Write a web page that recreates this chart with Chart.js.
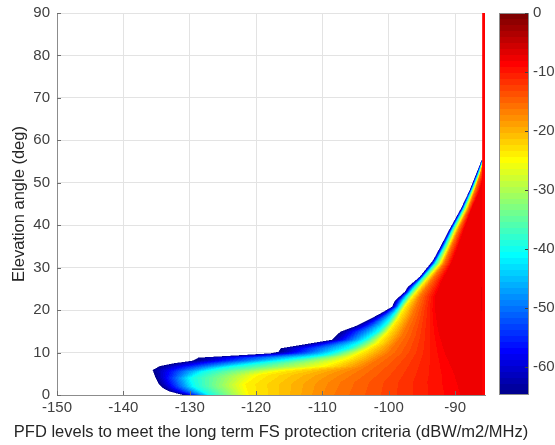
<!DOCTYPE html>
<html>
<head>
<meta charset="utf-8">
<script src="https://cdn.jsdelivr.net/npm/chart.js@4.4.0/dist/chart.umd.min.js"></script>
<style>
  html, body { margin: 0; padding: 0; background: #fff; }
  #wrap { width: 555px; height: 445px; }
</style>
</head>
<body>
<div id="wrap"><canvas id="pfdChart" width="555" height="445"></canvas></div>
<script>
// colour scale limits and the PFD range shown
const minLevel = -64.7;
const maxLevel = 0;
const pfdMin = -150;
const pfdMax = -85.5;

// tick labels
const xTicks = [-150, -140, -130, -120, -110, -100, -90];
const yTicks = [0, 10, 20, 30, 40, 50, 60, 70, 80, 90];
const cbTicks = [-60, -50, -40, -30, -20, -10, 0];

const xTitle = 'PFD levels to meet the long term FS protection criteria (dBW/m2/MHz)';
const yTitle = 'Elevation angle (deg)';

// lower boundary of the filled region: [elevation deg, PFD]
const edgeLine = [
  [0, -131], [0.8, -133], [1.6, -134], [2.7, -134.7], [3.9, -135.1], [5.1, -135.4],
  [5.9, -135.6], [6.8, -134.5], [7.45, -132.5], [8.1, -129.5], [8.8, -128.7],
  [9.8, -117.9], [10.2, -116.6], [11.0, -116.3], [13.0, -108.6], [14.9, -107.3],
  [16.3, -104.9], [18.9, -101.6], [20.8, -99.5], [22.2, -99.1], [24.3, -97.6],
  [25.5, -97.1], [27.9, -95.3], [31.8, -93.3], [35.3, -92.1], [38.9, -90.9],
  [44, -89.1], [48.3, -87.8], [52.2, -86.8], [55.4, -86.0]
];

// contour levels inside the region and where each one crosses each elevation
const contourLevels = [-40, -24, -16, -8];
const contour40 = [
  [0, -127], [2, -129.3], [4, -129.8], [5.5, -128], [6.5, -124.5], [7.6, -119],
  [8.5, -114], [9.4, -109.4], [11, -106], [13, -103.5], [14.9, -101.6], [17, -100.2],
  [20, -98.7], [23.2, -97.3], [27, -95.2], [31, -93], [35, -91.6], [39, -90.4],
  [44, -88.7], [48.3, -87.5], [52.2, -86.5], [55.4, -85.85]
];
const contour24 = [
  [0, -121], [2.5, -121.5], [4.7, -119.5], [5.7, -116], [6.7, -109.4], [8.5, -106],
  [10.5, -103.5], [12.2, -101.6], [15, -100], [18, -98.6], [20.8, -97.6], [23.2, -96.4],
  [27, -94.4], [31, -92.2], [35, -91], [39, -89.9], [44, -88.3], [48.3, -87.2],
  [52.2, -86.3], [55.4, -85.75]
];
const contour16 = [
  [0, -108], [3, -107], [6, -104], [10, -100], [14, -98], [18, -96.7], [23.2, -95.3],
  [27, -93.6], [31, -91.7], [35, -90.6], [39, -89.5], [44, -88], [48.3, -87],
  [52.2, -86.2], [55.4, -85.7]
];
const contour8 = [
  [0, -89], [5, -90], [10, -91.5], [15, -92.5], [20, -93], [23.2, -93], [27, -92],
  [31, -90.6], [35, -89.6], [39, -88.7], [44, -87.5], [48.3, -86.3], [52.2, -85.6],
  [55.4, -85.5]
];
const contourLines = [contour40, contour24, contour16, contour8];

// level along the right-hand edge of the data
const rightEdge = [
  [0, -8], [10, -7.5], [20, -7], [30, -7], [40, -7.5], [50, -8.3], [55.4, -9]
];

// last PFD column, continues up to 90 deg
const lastColumnPfd = -85.7;
const lastColumnElev = [0, 90];
const lastColumnLevel = -9;

// MATLAB jet(64)
function jet(i) {
  const n = 16;
  const u = [];
  for (let k = 1; k <= n; k++) u.push(k / n);
  for (let k = 0; k < n - 1; k++) u.push(1);
  for (let k = n; k >= 1; k--) u.push(k / n);
  const chan = shift => {
    const idx = i + 1 - shift;
    return idx >= 1 && idx <= u.length ? u[idx - 1] : 0;
  };
  return [chan(24), chan(8), chan(-8)].map(c => Math.round(c * 255));
}
const nColors = 64;
function levelIndex(v) {
  const t = (v - minLevel) / (maxLevel - minLevel);
  return Math.max(0, Math.min(nColors - 1, Math.floor(t * nColors)));
}
function jetCss(v) {
  const c = jet(levelIndex(v));
  return `rgb(${c[0]},${c[1]},${c[2]})`;
}

function interp(table, e) {
  if (e <= table[0][0]) return table[0][1];
  for (let i = 1; i < table.length; i++) {
    if (e <= table[i][0]) {
      const [e0, x0] = table[i - 1];
      const [e1, x1] = table[i];
      return x0 + (x1 - x0) * (e - e0) / (e1 - e0);
    }
  }
  return table[table.length - 1][1];
}

// knots of (PFD, level) along one elevation row
function rowKnots(e) {
  const knots = [[interp(edgeLine, e), minLevel]];
  contourLines.forEach((line, k) => {
    const xv = interp(line, e);
    const last = knots[knots.length - 1][0];
    if (xv < pfdMax) knots.push([Math.max(xv, last + 1e-3), contourLevels[k]]);
  });
  knots.push([pfdMax, interp(rightEdge, e)]);
  return knots;
}
function valueAt(knots, xv) {
  if (xv <= knots[0][0]) return knots[0][1];
  for (let i = 1; i < knots.length; i++) {
    if (xv <= knots[i][0]) {
      const [x0, v0] = knots[i - 1];
      const [x1, v1] = knots[i];
      return v0 + (v1 - v0) * (xv - x0) / (x1 - x0);
    }
  }
  return knots[knots.length - 1][1];
}

// filled contour field, drawn under the datasets
const fieldPlugin = {
  id: 'pfdField',
  beforeDatasetsDraw(chart) {
    const { ctx, chartArea: a, scales: { x, y } } = chart;
    const w = Math.round(a.right - a.left);
    const h = Math.round(a.bottom - a.top);
    const off = document.createElement('canvas');
    off.width = w;
    off.height = h;
    const octx = off.getContext('2d');
    const img = octx.createImageData(w, h);
    const eTop = edgeLine[edgeLine.length - 1][0];
    const sub = [0.25, 0.75];
    for (let j = 0; j < h; j++) {
      const eSub = sub.map(s => y.getValueForPixel(a.top + j + s));
      const edgeSub = eSub.map(e => (e >= 0 && e <= eTop) ? interp(edgeLine, e) : Infinity);
      if (edgeSub.every(v => v === Infinity)) continue;
      const ec = Math.min(Math.max(y.getValueForPixel(a.top + j + 0.5), 0), eTop);
      const knots = rowKnots(ec);
      for (let i = 0; i < w; i++) {
        let cover = 0;
        for (const s of sub) {
          const xv = x.getValueForPixel(a.left + i + s);
          for (const ed of edgeSub) if (xv >= ed) cover++;
        }
        if (!cover) continue;
        const c = jet(levelIndex(valueAt(knots, x.getValueForPixel(a.left + i + 0.5))));
        const k = (j * w + i) * 4;
        img.data[k] = c[0];
        img.data[k + 1] = c[1];
        img.data[k + 2] = c[2];
        img.data[k + 3] = Math.round(255 * cover / 4);
      }
    }
    octx.putImageData(img, 0, 0);
    ctx.drawImage(off, a.left, a.top);
  },
  afterDatasetsDraw(chart) {
    // inward tick marks like MATLAB axes
    const { ctx, chartArea: a, scales: { x, y } } = chart;
    ctx.save();
    ctx.strokeStyle = '#6e6e6e';
    ctx.lineWidth = 1;
    ctx.beginPath();
    xTicks.forEach(v => {
      const px = Math.round(x.getPixelForValue(v)) + 0.5;
      ctx.moveTo(px, a.bottom);
      ctx.lineTo(px, a.bottom - 4);
    });
    yTicks.forEach(v => {
      const py = Math.round(y.getPixelForValue(v)) + 0.5;
      ctx.moveTo(a.left, py);
      ctx.lineTo(a.left + 4, py);
    });
    ctx.stroke();
    ctx.restore();
  }
};

// colour bar drawn along the 'cb' scale, plus the x axis label
// (drawn here so it is not squeezed to the axis width)
const colorbarPlugin = {
  id: 'colorbar',
  afterDraw(chart) {
    const { ctx, chartArea: a, scales: { cb } } = chart;
    const x0 = cb.left + 14;
    const x1 = cb.left + 44;
    const step = (maxLevel - minLevel) / nColors;
    ctx.save();
    for (let i = 0; i < nColors; i++) {
      const lo = minLevel + i * step;
      const top = cb.getPixelForValue(lo + step);
      const bot = cb.getPixelForValue(lo);
      const c = jet(i);
      ctx.fillStyle = `rgb(${c[0]},${c[1]},${c[2]})`;
      ctx.fillRect(x0, Math.floor(top), x1 - x0, Math.ceil(bot) - Math.floor(top));
    }
    ctx.strokeStyle = '#8c8c8c';
    ctx.lineWidth = 1;
    ctx.strokeRect(x0 + 0.5, Math.round(cb.top) + 0.5, x1 - x0 - 1, Math.round(cb.bottom - cb.top) - 1);
    ctx.strokeStyle = '#404040';
    ctx.beginPath();
    cbTicks.forEach(v => {
      const py = Math.round(cb.getPixelForValue(v)) + 0.5;
      ctx.moveTo(x1 - 1, py);
      ctx.lineTo(x1 - 4, py);
    });
    ctx.stroke();

    ctx.fillStyle = '#262626';
    ctx.font = `${titleSize}px ${fontFamily}`;
    ctx.textAlign = 'center';
    ctx.textBaseline = 'middle';
    ctx.fillText(xTitle, (a.left + a.right) / 2, a.bottom + 37);
    ctx.restore();
  }
};

// keep the plot box fixed: no extra room for half-labels at the ends
function noEndPadding(s) {
  s.paddingTop = 0;
  s.paddingBottom = 0;
  s.paddingLeft = 0;
  s.paddingRight = 0;
}

const fontFamily = "'Liberation Sans', Arial, sans-serif";
const titleSize = 16.5;
const tickFont = { family: fontFamily, size: 15 };
const titleFont = { family: fontFamily, size: titleSize };
const tickColor = '#404040';
const gridColor = '#e3e3e3';
const axisColor = '#8c8c8c';

new Chart(document.getElementById('pfdChart'), {
  type: 'scatter',
  data: {
    datasets: [{
      data: lastColumnElev.map(e => ({ x: lastColumnPfd, y: e })),
      showLine: true,
      borderColor: jetCss(lastColumnLevel),
      borderWidth: 3,
      pointRadius: 0,
      xAxisID: 'x',
      yAxisID: 'y'
    }]
  },
  options: {
    responsive: false,
    animation: false,
    layout: { padding: { top: 13, left: 0, right: 0, bottom: 0 } },
    plugins: { legend: { display: false }, tooltip: { enabled: false } },
    scales: {
      x: {
        type: 'linear',
        min: pfdMin,
        max: pfdMax,
        afterFit: s => { s.height = 50; noEndPadding(s); },
        ticks: {
          stepSize: 10,
          includeBounds: false,
          autoSkip: false,
          maxRotation: 0,
          padding: 4,
          color: tickColor,
          font: tickFont,
          callback: v => xTicks.includes(v) ? String(v) : null
        },
        grid: { color: gridColor, drawTicks: false },
        border: { color: axisColor }
      },
      y: {
        type: 'linear',
        position: 'left',
        min: 0,
        max: 90,
        afterFit: s => { s.width = 57; noEndPadding(s); },
        ticks: {
          stepSize: 10,
          padding: 7,
          color: tickColor,
          font: tickFont,
          callback: v => yTicks.includes(v) ? String(v) : null
        },
        grid: { color: gridColor, drawTicks: false },
        border: { color: axisColor },
        title: {
          display: true,
          text: yTitle,
          color: '#262626',
          font: titleFont,
          padding: { top: 10, bottom: 0 }
        }
      },
      cb: {
        type: 'linear',
        position: 'right',
        min: minLevel,
        max: maxLevel,
        afterFit: s => { s.width = 70; noEndPadding(s); },
        ticks: {
          stepSize: 10,
          includeBounds: false,
          padding: 48,
          color: tickColor,
          font: tickFont,
          callback: v => cbTicks.includes(v) ? String(v) : null
        },
        grid: { drawOnChartArea: false, drawTicks: false },
        border: { display: false }
      }
    }
  },
  plugins: [fieldPlugin, colorbarPlugin]
});
</script>
</body>
</html>
